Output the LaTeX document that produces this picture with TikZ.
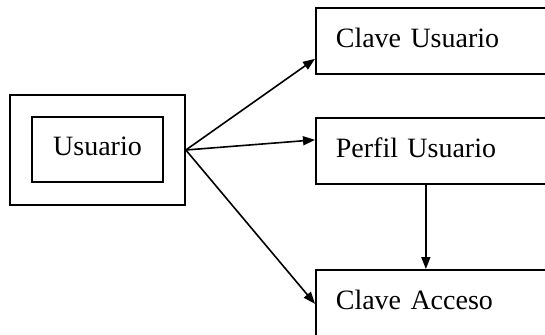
\documentclass[tikz,border=0pt]{standalone}
\usepackage{fontspec}
\setmainfont{Liberation Serif}
\usetikzlibrary{arrows.meta, positioning}

\begin{document}
\begin{tikzpicture}[
    x=1pt, y=-1pt,
    box/.style={rectangle, draw=black, line width=1.7pt, font=\fontsize{28}{33}\selectfont, inner sep=0pt, text depth=6pt},
    rbox/.style={box, anchor=north west, minimum width=250pt, minimum height=66pt, text width=210pt, inner xsep=20pt, align=left},
    arr/.style={-{Triangle[length=12pt, width=9pt]}, line width=1.6pt},
]
\clip (0,0) rectangle (545,334);

% Entity
\node[box, minimum width=175pt, minimum height=110pt] (outer) at (97.5,150) {};
\node[box, minimum width=131pt, minimum height=65pt] (usuario) at (97.5,149.5) {Usuario};

% Attributes
\node[rbox] (clave) at (315,7) {Clave Usuario};
\node[rbox] (perfil) at (315,117) {Perfil Usuario};
\node[rbox] (acceso) at (315,269) {Clave Acceso};

% Connection
\draw[arr] (outer.east) -- ([yshift=-18pt]clave.west);
\draw[arr] (outer.east) -- ([yshift=11pt]perfil.west);
\draw[arr] (outer.east) -- ([yshift=-1pt]acceso.west);
\draw[arr] ([xshift=-15pt]perfil.south) -- ([xshift=-15pt]acceso.north);

\end{tikzpicture}
\end{document}
